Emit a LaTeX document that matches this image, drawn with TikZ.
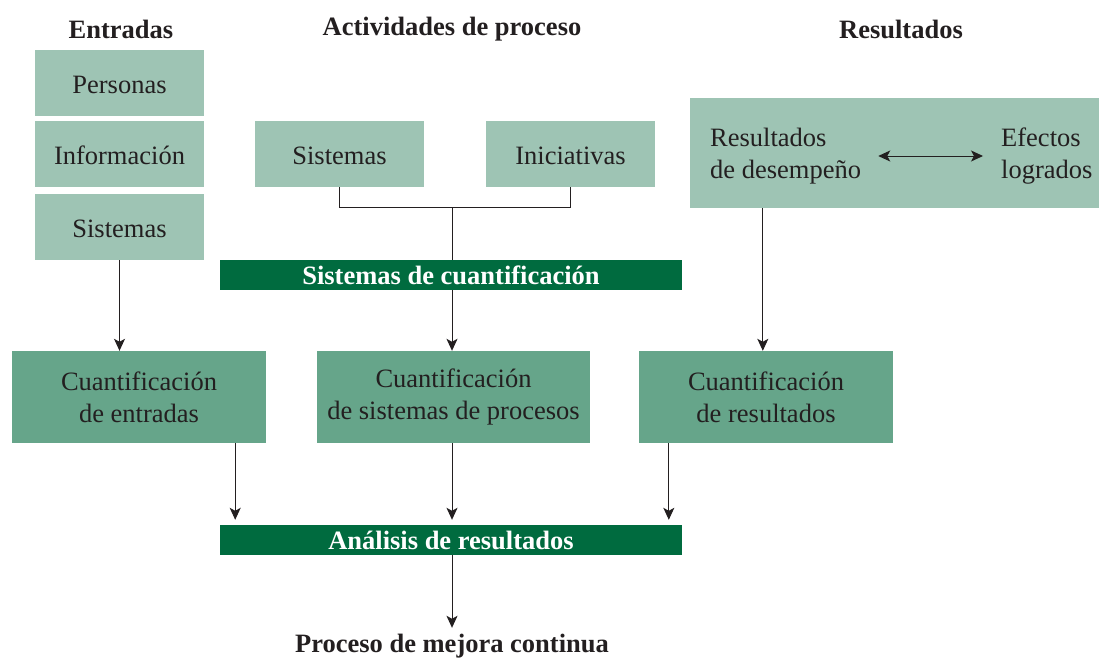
\documentclass[tikz,border=0pt]{standalone}
\usepackage{fontspec}
\setmainfont{Liberation Serif}
\usetikzlibrary{arrows.meta,calc}
\definecolor{lightg}{HTML}{9EC4B4}
\definecolor{midg}{HTML}{66A58A}
\definecolor{darkg}{HTML}{006B3F}
\definecolor{txt}{HTML}{231F20}
\begin{document}
\begin{tikzpicture}[x=1pt,y=-1pt,
  lbox/.style={fill=lightg, inner sep=0pt, text=txt, align=center, font=\fontsize{26.5}{32}\selectfont, text height=21pt, text depth=0pt},
  rbox/.style={fill=lightg, inner sep=0pt},
  mbox/.style={fill=midg, inner sep=0pt, text=txt, align=center, font=\fontsize{26.5}{32}\selectfont, minimum width=#1, minimum height=92},
  bar/.style={fill=darkg, inner sep=0pt, text=white, font=\bfseries\fontsize{26.5}{32}\selectfont, minimum width=462, minimum height=30},
  plain/.style={inner sep=0pt, text=txt, align=left, font=\fontsize{26.5}{32}\selectfont},
  title/.style={inner sep=0pt, text=txt, font=\bfseries\fontsize{26.5}{32}\selectfont},
  ln/.style={draw=txt, line width=1pt},
  tip/.tip={Stealth[length=12pt,width=11pt,inset=3pt]},
  arr/.style={ln, -tip},
  darr/.style={ln, tip-tip}
]
\useasboundingbox (0,0) rectangle (1099,658);
% titles
\node[title] (tEnt) at (121,29) {Entradas};
\node[title] (tAct) at (452,29) {Actividades de proceso};
\node[title] (tRes) at (901,29) {Resultados};
% entradas column
\node[lbox, minimum width=169, minimum height=66] (pers) at (119.5,83) {Personas};
\node[lbox, minimum width=169, minimum height=66] (info) at (119.5,154) {Información};
\node[lbox, minimum width=169, minimum height=66] (sisE) at (119.5,227) {Sistemas};
% actividades
\node[lbox, minimum width=169, minimum height=66] (sisA) at (339.5,154) {Sistemas};
\node[lbox, minimum width=169, minimum height=66] (ini) at (570.5,154) {Iniciativas};
% resultados box
\node[rbox, minimum width=409, minimum height=110] (resbox) at (894.5,153) {};
\node[plain, anchor=west] (rdes) at (710,156) {Resultados\\de desempeño};
\node[plain, anchor=west] (efec) at (1001,156) {Efectos\\logrados};
\draw[darr] ([xshift=17pt]rdes.east) -- ([xshift=-18pt]efec.west);
% bars
\node[bar] (scuant) at (451,275) {Sistemas de cuantificación};
\node[bar] (anal) at (451,540) {Análisis de resultados};
% cuantificacion boxes
\node[mbox=254] (ce) at (139,397) {Cuantificación\\de entradas};
\node[mbox=273] (cs) at (453.5,397) {Cuantificación\\de sistemas de procesos};
\node[mbox=254] (cr) at (766,397) {Cuantificación\\de resultados};
% final
\node[title] (mejora) at (452,646) {Proceso de mejora continua};
% connectors
\draw[arr] (sisE.south) -- (sisE.south |- ce.north);
\coordinate (brL) at ($(sisA.south)+(0,20)$);
\coordinate (brR) at ($(ini.south)+(0,20)$);
\coordinate (brM) at (452,0 |- brL);
\draw[ln] (sisA.south) -- (brL) -- (brR) -- (ini.south);
\draw[ln] (brM) -- (brM |- scuant.north);
\draw[arr] (brM |- scuant.south) -- (brM |- cs.north);
\coordinate (rOut) at ($(resbox.south west)+(73,0)$);
\draw[arr] (rOut) -- (rOut |- cr.north);
\coordinate (ceOut) at ($(ce.south east)+(-31,0)$);
\coordinate (crOut) at ($(cr.south west)+(30,0)$);
\draw[arr, shorten >=5pt] (ceOut) -- (ceOut |- anal.north);
\draw[arr, shorten >=5pt] (brM |- cs.south) -- (brM |- anal.north);
\draw[arr, shorten >=5pt] (crOut) -- (crOut |- anal.north);
\draw[arr, shorten >=6pt] (brM |- anal.south) -- (brM |- mejora.north);
\end{tikzpicture}
\end{document}
